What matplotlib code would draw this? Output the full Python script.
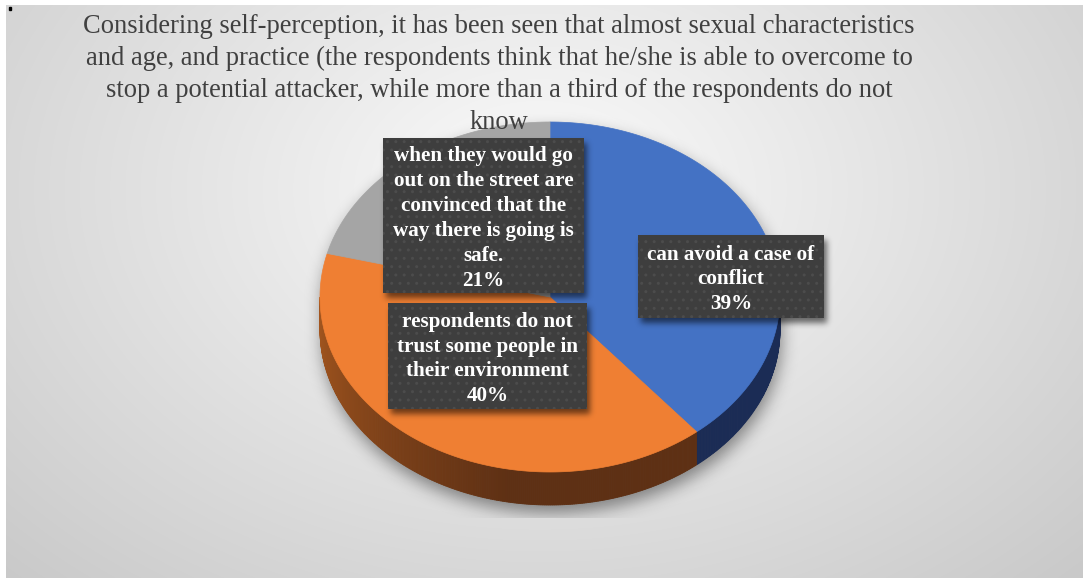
import numpy as np
import matplotlib
matplotlib.use("Agg")
import matplotlib.pyplot as plt
from matplotlib.patches import Polygon, Rectangle

# ---------------- data ----------------
title_lines = [
    "Considering self-perception, it has been seen that almost sexual characteristics",
    "and age, and practice (the respondents think that he/she is able to overcome to",
    "stop a potential attacker, while more than a third of the respondents do not",
    "know",
]
categories = [
    "can avoid a case of conflict",
    "respondents do not trust some people in their environment",
    "when they would go out on the street are convinced that the way there is going is safe.",
]
values = [39, 40, 21]
label_lines = [
    ["can avoid a case of", "conflict"],
    ["respondents do not", "trust some people in", "their environment"],
    ["when they would go", "out on the street are", "convinced that the",
     "way there is going is", "safe."],
]
colors_top = ["#4472C4", "#EF7F33", "#A5A5A5"]
side_dark = ["#1B2C55", "#5E3014", "#555555"]
side_light = ["#2A4580", "#A5571F", "#7A7A7A"]

# ---------------- layout ----------------
W, H = 1083, 578
cx, cy, rx, ry, depth = 550, 297, 230, 175, 33
label_boxes = [  # x0, y0, x1, y1 (pixels, top-left origin)
    (638, 235, 824, 318),
    (388, 303, 587, 409),
    (383, 138, 584, 293),
]

fig = plt.figure(figsize=(W / 100, H / 100), dpi=100)
fig.patch.set_facecolor("white")
ax = fig.add_axes([0, 0, 1, 1])
ax.set_xlim(0, W)
ax.set_ylim(H, 0)
ax.axis("off")

# ---------------- background (radial gradient) ----------------
bx0, by0 = 6, 5
ys, xs = np.mgrid[by0:H, bx0:W] + 0.5
r = np.sqrt(((xs - 540) / 1.4) ** 2 + (ys - 190) ** 2)
c = np.clip(0.985 - 0.36 * r / 1000, 0, 1)
ax.imshow(np.dstack([c, c, c]), extent=(bx0, W, H, by0), origin="upper",
          aspect="auto", zorder=0, interpolation="bilinear")
ax.add_patch(Rectangle((9, 7), 2, 3, color="black", zorder=1))


def blur(img, sigma):
    k = int(3 * sigma)
    xk = np.arange(-k, k + 1)
    ker = np.exp(-xk ** 2 / (2 * sigma ** 2))
    ker /= ker.sum()
    p = np.pad(img, ((0, 0), (k, k)))
    out = sum(ker[i] * p[:, i:i + img.shape[1]] for i in range(2 * k + 1))
    p = np.pad(out, ((k, k), (0, 0)))
    out = sum(ker[i] * p[i:i + img.shape[0], :] for i in range(2 * k + 1))
    return out


gy, gx = np.mgrid[0:H, 0:W] + 0.5

# ---------------- pie shadow ----------------
sdx, sdy = 2, 8
X = (gx - cx - sdx) / rx
Yt = (gy - cy - sdy) / ry
Yb = (gy - cy - depth - sdy) / ry
mask = ((X ** 2 + Yt ** 2 <= 1) | (X ** 2 + Yb ** 2 <= 1) |
        ((np.abs(X) <= 1) & (gy >= cy + sdy) & (gy <= cy + depth + sdy))).astype(float)
sh = blur(mask, 8) * 0.42
sh[gy > 518] = 0
ax.imshow(np.dstack([np.zeros_like(sh)] * 3 + [sh]), extent=(0, W, H, 0),
          origin="upper", aspect="auto", zorder=1)


def pt(t_deg, dy=0.0):
    t = np.radians(t_deg)
    return cx + rx * np.cos(t), cy - ry * np.sin(t) + dy


# ---------------- pie sides ----------------
cum = np.concatenate([[0], np.cumsum(values)]) / sum(values) * 360.0
for i in range(len(values)):
    t_a, t_b = 90 - cum[i + 1], 90 - cum[i]          # t_a < t_b
    for shift in (-360, 0, 360):
        lo, hi = max(t_a + shift, -180), min(t_b + shift, 0)
        if hi <= lo:
            continue
        n = max(int((hi - lo) / 0.5), 1)
        ts = np.linspace(lo, hi, n + 1)
        for t1, t2 in zip(ts[:-1], ts[1:]):
            L = np.clip((-(t1 + t2) / 2 - 100) / 80, 0, 1)
            d = np.array(matplotlib.colors.to_rgb(side_dark[i]))
            l = np.array(matplotlib.colors.to_rgb(side_light[i]))
            col = d + (l - d) * L
            x1, y1 = pt(t1)
            x2, y2 = pt(t2)
            ax.add_patch(Polygon([(x1, y1), (x2, y2), (x2, y2 + depth), (x1, y1 + depth)],
                                 closed=True, facecolor=col, edgecolor=col, lw=0.6, zorder=2))

# ---------------- pie top ----------------
for i in range(len(values)):
    ts = np.linspace(90 - cum[i], 90 - cum[i + 1], 200)
    verts = [(cx, cy)] + [pt(t) for t in ts]
    ax.add_patch(Polygon(verts, closed=True, facecolor=colors_top[i],
                         edgecolor=colors_top[i], lw=0.5, zorder=3))

# ---------------- label box shadows ----------------
bm = np.zeros((H, W))
for (x0, y0, x1, y1) in label_boxes:
    bm[(gx >= x0 + 3) & (gx <= x1 + 3) & (gy >= y0 + 5) & (gy <= y1 + 5)] = 1
bs = blur(bm, 3) * 0.55
ax.imshow(np.dstack([np.zeros_like(bs)] * 3 + [bs]), extent=(0, W, H, 0),
          origin="upper", aspect="auto", zorder=4)

# ---------------- label boxes ----------------
for i, (x0, y0, x1, y1) in enumerate(label_boxes):
    ax.add_patch(Rectangle((x0, y0), x1 - x0, y1 - y0, facecolor="#3E3E3E",
                           edgecolor="none", lw=0, zorder=5))
    ax.add_patch(Rectangle((x0, y0), x1 - x0, y1 - y0, facecolor="none",
                           edgecolor="#4C4C4C", hatch="..", lw=0, zorder=5.5))
    txt = "\n".join(label_lines[i] + [f"{values[i]}%"])
    ax.text((x0 + x1) / 2, (y0 + y1) / 2 + 3, txt, ha="center", va="center",
            color="white", fontsize=15.2, fontweight="bold",
            family="Liberation Serif", linespacing=1.33, zorder=6)

# ---------------- title ----------------
ax.text(499, 74.5, "\n".join(title_lines), ha="center", va="center",
        color="#404040", fontsize=19.1, family="Liberation Serif",
        linespacing=1.35, zorder=7)

ax.set_xlim(0, W)
ax.set_ylim(H, 0)
fig.savefig("out.png", dpi=100)
